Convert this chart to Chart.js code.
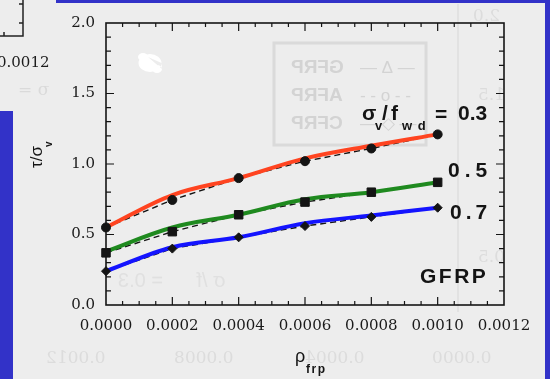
<!DOCTYPE html>
<html>
<head>
<meta charset="utf-8">
<script src="https://cdn.jsdelivr.net/npm/chart.js@4.4.1/dist/chart.umd.min.js"></script>
<style>
  body { margin: 0; background: #3232c8; }
  canvas { display: block; }
</style>
</head>
<body>
<canvas id="myChart" width="550" height="379"></canvas>
<script>
// reinforcement ratio (x)
const rho = [0, 0.0002, 0.0004, 0.0006, 0.0008, 0.0010];
// test points (black markers, dashed)
const pts03 = [0.55, 0.745, 0.90, 1.02, 1.11, 1.21];
const pts05 = [0.37, 0.52, 0.64, 0.73, 0.80, 0.87];
const pts07 = [0.24, 0.40, 0.48, 0.56, 0.625, 0.69];
// fitted curves (coloured)
const fit03 = [0.55, 0.78, 0.90, 1.04, 1.13, 1.21];
const fit05 = [0.38, 0.55, 0.64, 0.75, 0.80, 0.87];
const fit07 = [0.24, 0.41, 0.48, 0.58, 0.635, 0.69];
const seriesLabels = ['0.3', '0.5', '0.7'];

const BLUE = '#3232c8';
const PAPER = '#ededed';
const INK = '#141414';

function xy(vals) {
  return rho.map((x, i) => ({ x: x, y: vals[i] }));
}

function txt(ctx, s, x, y, font, spacing, color) {
  ctx.font = font;
  ctx.letterSpacing = (spacing || 0) + 'px';
  ctx.fillStyle = color || INK;
  ctx.fillText(s, x, y);
  ctx.letterSpacing = '0px';
}

function mirrored(ctx, s, x, y, font, color) {
  ctx.save();
  ctx.font = font;
  const w = ctx.measureText(s).width;
  ctx.translate(x + w, y);
  ctx.scale(-1, 1);
  ctx.fillStyle = color;
  ctx.fillText(s, 0, 0);
  ctx.restore();
}

// page background, scan pieces and bleed-through
const paperPlugin = {
  id: 'paper',
  beforeDraw(chart) {
    const ctx = chart.ctx;
    ctx.save();
    ctx.fillStyle = BLUE;
    ctx.fillRect(0, 0, 550, 379);
    ctx.fillStyle = PAPER;
    ctx.fillRect(13, 3, 532, 376);
    ctx.fillRect(0, 0, 56, 111);
    ctx.fillStyle = BLUE;
    ctx.fillRect(56, 0, 494, 3);

    // bleed-through from the back page
    ctx.strokeStyle = '#dadada';
    ctx.lineWidth = 3;
    ctx.strokeRect(274, 43, 152, 102);
    ctx.lineWidth = 2;
    ctx.strokeStyle = '#e2e2e2';
    ctx.beginPath(); ctx.moveTo(458, 4); ctx.lineTo(458, 312); ctx.stroke();
    const g = '#d3d3d3';
    mirrored(ctx, 'GFRP', 291, 73, 'bold 19px "Liberation Sans"', g);
    mirrored(ctx, 'AFRP', 291, 101, 'bold 19px "Liberation Sans"', g);
    mirrored(ctx, 'CFRP', 291, 129, 'bold 19px "Liberation Sans"', g);
    mirrored(ctx, '— Δ —', 360, 73, '17px "Liberation Sans"', g);
    mirrored(ctx, '- - o - -', 360, 101, '17px "Liberation Sans"', g);
    mirrored(ctx, '— ◇ —', 360, 129, '17px "Liberation Sans"', g);
    const gs = '#dcdcdc';
    mirrored(ctx, '0.0012', 46, 363, '17px "DejaVu Serif"', gs);
    mirrored(ctx, '0.0008', 174, 363, '17px "DejaVu Serif"', gs);
    mirrored(ctx, '0.0004', 305, 363, '17px "DejaVu Serif"', gs);
    mirrored(ctx, '0.0000', 432, 363, '17px "DejaVu Serif"', gs);
    mirrored(ctx, '2.0', 473, 21, '17px "DejaVu Serif"', gs);
    mirrored(ctx, '1.5', 478, 100, '17px "DejaVu Serif"', gs);
    mirrored(ctx, '0.5', 478, 262, '17px "DejaVu Serif"', gs);
    mirrored(ctx, 'σ /f      = 0.3', 118, 287, '20px "Liberation Sans"', '#e0e0e0');

    // top-left piece of another figure
    ctx.strokeStyle = '#222';
    ctx.lineWidth = 1.5;
    ctx.beginPath();
    ctx.moveTo(23, 0); ctx.lineTo(23, 36); ctx.lineTo(0, 36);
    ctx.moveTo(19, 4); ctx.lineTo(23, 4);
    ctx.moveTo(19, 23); ctx.lineTo(23, 23);
    ctx.moveTo(4, 36); ctx.lineTo(4, 32);
    ctx.stroke();
    txt(ctx, '0.0012', -3, 67, '15px "DejaVu Serif"', 0, '#1c1c1c');
    txt(ctx, '= σ', 18, 95, '17px "DejaVu Serif"', 0, '#dadada');

    // white blob on the scan
    ctx.fillStyle = '#ffffff';
    ctx.beginPath();
    ctx.ellipse(150, 63, 11.5, 9, 0, 0, Math.PI * 2);
    ctx.ellipse(143, 57, 5, 4, 0, 0, Math.PI * 2);
    ctx.ellipse(157, 69, 5, 4, 0, 0, Math.PI * 2);
    ctx.fill();
    ctx.restore();
  }
};

// frame with inward minor/major ticks on all four sides
const framePlugin = {
  id: 'frame',
  beforeDatasetsDraw(chart) {
    const { ctx, chartArea: a, scales: { x, y } } = chart;
    ctx.save();
    ctx.strokeStyle = INK;
    ctx.lineWidth = 1.2;
    ctx.beginPath();
    for (let i = 1; i < 24; i++) {
      const px = x.getPixelForValue(i * 0.00005);
      const len = i % 4 === 0 ? 8 : 4;
      ctx.moveTo(px, a.bottom); ctx.lineTo(px, a.bottom - len);
      ctx.moveTo(px, a.top); ctx.lineTo(px, a.top + len);
    }
    for (let i = 1; i < 20; i++) {
      const py = y.getPixelForValue(i * 0.1);
      const len = i % 5 === 0 ? 8 : 5;
      ctx.moveTo(a.left, py); ctx.lineTo(a.left + len, py);
      ctx.moveTo(a.right, py); ctx.lineTo(a.right - len, py);
    }
    ctx.stroke();
    ctx.lineWidth = 1.6;
    ctx.strokeRect(a.left, a.top, a.right - a.left, a.bottom - a.top);
    ctx.restore();
  }
};

// axis titles and curve labels
const labelPlugin = {
  id: 'labels',
  afterDraw(chart) {
    const ctx = chart.ctx;
    ctx.save();
    ctx.textAlign = 'left';
    ctx.textBaseline = 'alphabetic';
    const b21 = 'bold 21px "Liberation Sans"';
    const b13 = 'bold 13px "Liberation Sans"';
    txt(ctx, 'σ', 362, 120, b21);
    txt(ctx, 'v', 375, 130, b13);
    txt(ctx, '/', 382, 120, b21);
    txt(ctx, 'f', 391, 120, b21);
    txt(ctx, 'w d', 402, 130, b13, 1);
    txt(ctx, '=', 435, 121, b21);
    txt(ctx, seriesLabels[0], 458, 120, b21);
    txt(ctx, seriesLabels[1], 448, 177, b21, 5);
    txt(ctx, seriesLabels[2], 450, 219, b21, 4);
    txt(ctx, 'GFRP', 420, 283, b21, 2.5);

    // x title
    txt(ctx, 'ρ', 295, 362, '18px "Liberation Sans"');
    txt(ctx, 'frp', 306, 373, 'bold 12px "Liberation Sans"', 1.5);

    // y title (rotated)
    ctx.translate(42, 168);
    ctx.rotate(-Math.PI / 2);
    txt(ctx, 'τ/σ', 0, 0, '17px "Liberation Sans"');
    txt(ctx, 'v', 21, 10, 'bold 10px "Liberation Sans"');
    ctx.restore();
  }
};

function fitLine(vals, color) {
  return {
    data: xy(vals), borderColor: color, borderWidth: 4, pointRadius: 0,
    tension: 0.35, fill: false, order: 2
  };
}
function dashLine(vals) {
  return {
    data: xy(vals), borderColor: INK, borderWidth: 1.4, borderDash: [6, 4],
    pointRadius: 0, tension: 0, fill: false, order: 3
  };
}
function marks(vals, style, r) {
  return {
    data: xy(vals), showLine: false, pointStyle: style, pointRadius: r,
    pointBackgroundColor: INK, pointBorderColor: INK, pointBorderWidth: 1,
    clip: false, order: 1
  };
}

const canvas = document.getElementById('myChart');
const ctx = canvas.getContext('2d');
let myChart = new Chart(ctx, {
  type: 'line',
  data: {
    datasets: [
      marks(pts03, 'circle', 4.5),
      marks(pts05, 'rect', 6),
      marks(pts07, 'rectRot', 4.5),
      fitLine(fit03, '#ff4420'),
      fitLine(fit05, '#1f8a1f'),
      fitLine(fit07, '#1414ff'),
      dashLine(pts03),
      dashLine(pts05),
      dashLine(pts07)
    ]
  },
  options: {
    responsive: false,
    animation: false,
    devicePixelRatio: 1,
    layout: { padding: { left: 0, top: 23, right: 46, bottom: 0 } },
    plugins: { legend: { display: false }, tooltip: { enabled: false } },
    scales: {
      x: {
        type: 'linear', min: 0, max: 0.0012,
        grid: { display: false, drawTicks: false },
        border: { display: false },
        ticks: {
          stepSize: 0.0002, padding: 12, color: '#1a1a1a',
          font: { family: 'DejaVu Serif', size: 15 },
          callback: v => Number(v).toFixed(4)
        },
        afterFit: s => { s.height = 74; }
      },
      y: {
        min: 0, max: 2,
        grid: { display: false, drawTicks: false },
        border: { display: false },
        ticks: {
          stepSize: 0.5, padding: 11, color: '#1a1a1a',
          font: { family: 'DejaVu Serif', size: 15 },
          callback: v => Number(v).toFixed(1)
        },
        afterFit: s => { s.width = 106; }
      }
    }
  },
  plugins: [paperPlugin, framePlugin, labelPlugin]
});
</script>
</body>
</html>
